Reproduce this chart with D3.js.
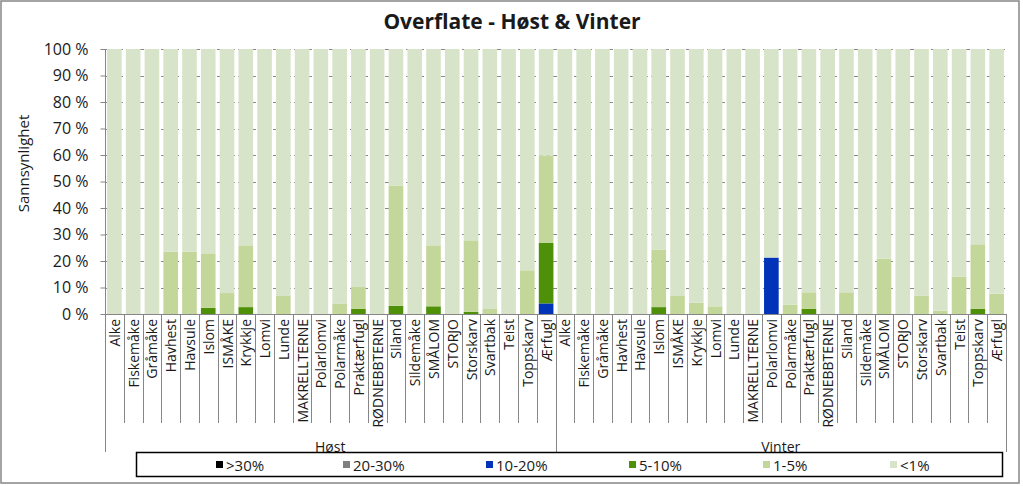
<!DOCTYPE html>
<html>
<head>
<meta charset="utf-8">
<script src="https://cdn.jsdelivr.net/npm/d3@7"></script>
<style>
  html, body { margin: 0; padding: 0; background: #fff; }
  svg { display: block; font-family: "Open Sans", "Liberation Sans", sans-serif; }
</style>
</head>
<body>
<svg id="chart" width="1023" height="486"></svg>
<script>
// ---------- DATA ----------
const groups = ["Høst", "Vinter"];
const species = ["Alke", "Fiskemåke", "Gråmåke", "Havhest", "Havsule", "Islom", "ISMÅKE", "Krykkje",
  "Lomvi", "Lunde", "MAKRELLTERNE", "Polarlomvi", "Polarmåke", "Praktærfugl", "RØDNEBBTERNE",
  "Siland", "Sildemåke", "SMÅLOM", "STORJO", "Storskarv", "Svartbak", "Teist", "Toppskarv", "Ærfugl"];
const seriesNames = [">30%", "20-30%", "10-20%", "5-10%", "1-5%", "<1%"];
const yTicks = [0, 0.1, 0.2, 0.3, 0.4, 0.5, 0.6, 0.7, 0.8, 0.9, 1.0];

// values in %, Høst (24) then Vinter (24)
const over30 = [
  0,0,0,0,0,0,0,0,0,0,0,0,0,0,0,0,0,0,0,0,0,0,0,0,
  0,0,0,0,0,0,0,0,0,0,0,0,0,0,0,0,0,0,0,0,0,0,0,0];
const p20to30 = [
  0,0,0,0,0,0,0,0,0,0,0,0,0,0,0,0,0,0,0,0,0,0,0,0,
  0,0,0,0,0,0,0,0,0,0,0,0,0,0,0,0,0,0,0,0,0,0,0,0];
const p10to20 = [
  0,0,0,0,0,0,0,0,0,0,0,0,0,0,0,0,0,0,0,0,0,0,0,4.0,
  0,0,0,0,0,0,0,0,0,0,0,21.3,0,0,0,0,0,0,0,0,0,0,0,0];
const p5to10 = [
  0,0,0,0,0,2.3,0,2.6,0,0,0,0,0,1.9,0,3.1,0,2.9,0,0.8,0,0,0,22.8,
  0,0,0,0,0,2.6,0,0,0,0,0,0,0,1.9,0,0,0,0,0,0,0,0,1.9,0];
const p1to5 = [
  0,0,0,23.5,23.5,20.6,7.9,23.3,0,6.8,0,0,3.8,8.3,0,45.4,0,23.0,0,27.0,1.9,0,16.5,32.9,
  0,0,0,0,0,21.6,6.8,4.3,2.9,0,0,0,3.5,6.3,0,8.2,0,20.9,0,7.0,1.3,14.0,24.4,7.7];
const under1 = [
  100,100,100,76.5,76.5,77.1,92.1,74.1,100,93.2,100,100,96.2,89.8,100,51.5,100,74.1,100,72.2,98.1,100,83.5,40.3,
  100,100,100,100,100,75.8,93.2,95.7,97.1,100,100,78.7,96.5,91.8,100,91.8,100,79.1,100,93.0,98.7,86.0,73.7,92.3];

const colors = ["#000000", "#7f7f7f", "#0033b8", "#4e9108", "#c4d79b", "#d8e4c9"];

// ---------- BUILD ----------
(function () {
const seriesValues = [over30, p20to30, p10to20, p5to10, p1to5, under1];
const rows = [];
groups.forEach((g, gi) => species.forEach((s, si) => {
  const idx = gi * species.length + si;
  const r = { key: g + "|" + s, group: g, name: s };
  seriesNames.forEach((n, k) => r[n] = seriesValues[k][idx] / 100);
  rows.push(r);
}));
const stacked = d3.stack().keys(seriesNames)(rows);

const svg = d3.select("#chart");

// outer frame
svg.append("rect").attr("x", 1).attr("y", 1).attr("width", 1018).attr("height", 482)
  .attr("fill", "#fff").attr("stroke", "#868686").attr("stroke-width", 1.5);

const pLeft = 105, pRight = 1006, pTop = 49, pBottom = 314;
const x = d3.scaleBand().domain(rows.map(r => r.key)).range([pLeft, pRight])
  .paddingInner(0.22).paddingOuter(0.11);
const y = d3.scaleLinear().domain([0, 1]).range([pBottom, pTop]);

// title
svg.append("text").attr("x", 512).attr("y", 29).attr("text-anchor", "middle")
  .attr("font-size", 21).attr("font-weight", "bold").attr("fill", "#1a1a1a")
  .text("Overflate - Høst & Vinter");

// gridlines
svg.append("g").selectAll("line").data(yTicks.filter(t => t > 0)).join("line")
  .attr("x1", pLeft).attr("x2", pRight)
  .attr("y1", d => Math.round(y(d)) + 0.5).attr("y2", d => Math.round(y(d)) + 0.5)
  .attr("stroke", "#8a8a8a").attr("stroke-width", 1).attr("stroke-dasharray", "4,3");

// bars
const gBars = svg.append("g");
stacked.forEach(layer => {
  gBars.append("g").attr("fill", colors[seriesNames.indexOf(layer.key)])
    .selectAll("rect").data(layer).join("rect")
    .attr("x", d => x(d.data.key))
    .attr("width", x.bandwidth())
    .attr("y", d => y(d[1]))
    .attr("height", d => Math.max(0, y(d[0]) - y(d[1])));
});

// y axis
const yAxis = d3.axisLeft(y).tickValues(yTicks).tickSize(5).tickPadding(12)
  .tickFormat(d => Math.round(d * 100) + " %");
const gy = svg.append("g").attr("transform", `translate(${pLeft + 0.5},0)`).call(yAxis);
gy.select(".domain").remove();
gy.selectAll(".tick line").attr("stroke", "#868686");
gy.selectAll(".tick text").attr("font-size", 16).attr("fill", "#1a1a1a")
  .attr("font-family", "'Open Sans', sans-serif");

// y title
svg.append("text").attr("transform", `translate(23,${(pTop + pBottom) / 2 - 18}) rotate(-90)`)
  .attr("text-anchor", "middle").attr("dominant-baseline", "central")
  .attr("font-size", 15).attr("fill", "#1a1a1a").text("Sannsynlighet");

// axis lines
const axisColor = "#868686";
svg.append("line").attr("x1", pLeft + 0.5).attr("x2", pLeft + 0.5).attr("y1", pTop).attr("y2", 452)
  .attr("stroke", axisColor);
svg.append("line").attr("x1", pLeft).attr("x2", pRight).attr("y1", pBottom + 0.5).attr("y2", pBottom + 0.5)
  .attr("stroke", axisColor);

// category separators
const step = x.step();
const nPer = species.length;
rows.forEach((r, i) => {
  if (i === 0) return;
  const bx = Math.round(x(r.key) - (step - x.bandwidth()) / 2) + 0.5;
  const isGroup = i % nPer === 0;
  svg.append("line").attr("x1", bx).attr("x2", bx).attr("y1", pBottom)
    .attr("y2", isGroup ? 452 : 423).attr("stroke", axisColor);
});
svg.append("line").attr("x1", pRight + 0.5).attr("x2", pRight + 0.5).attr("y1", pBottom).attr("y2", 452)
  .attr("stroke", axisColor);

// category labels
svg.append("g").selectAll("text").data(rows).join("text")
  .attr("transform", d => `translate(${x(d.key) + x.bandwidth() / 2},319) rotate(-90)`)
  .attr("text-anchor", "end").attr("dominant-baseline", "central")
  .attr("font-size", 14).attr("fill", "#1a1a1a").text(d => d.name);

// group labels
groups.forEach((g, gi) => {
  const first = x(rows[gi * nPer].key), last = x(rows[gi * nPer + nPer - 1].key) + x.bandwidth();
  svg.append("text").attr("x", (first + last) / 2).attr("y", 446)
    .attr("text-anchor", "middle").attr("dominant-baseline", "central")
    .attr("font-size", 14).attr("fill", "#1a1a1a").text(g);
});

// legend
svg.append("rect").attr("x", 136.5).attr("y", 452.5).attr("width", 866).attr("height", 24)
  .attr("fill", "#fff").attr("stroke", "#000").attr("stroke-width", 1.5);
const legendX = [216, 343, 486, 629, 763, 890];
seriesNames.forEach((n, i) => {
  svg.append("rect").attr("x", legendX[i]).attr("y", 461).attr("width", 7).attr("height", 7)
    .attr("fill", colors[i]);
  svg.append("text").attr("x", legendX[i] + 10).attr("y", 465)
    .attr("dominant-baseline", "central").attr("font-size", 15).attr("fill", "#1a1a1a").text(n);
});
})();
</script>
</body>
</html>
